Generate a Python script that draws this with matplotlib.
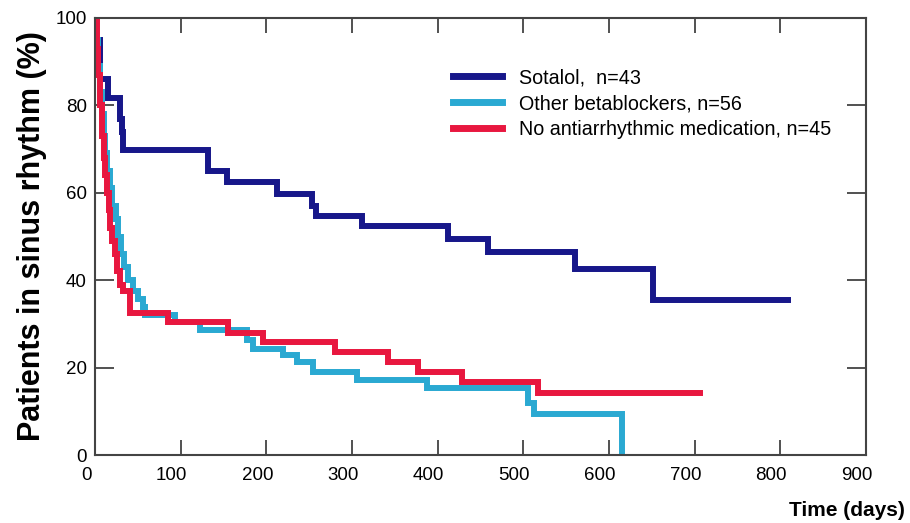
import numpy as np
import matplotlib
matplotlib.use("Agg")
import matplotlib.pyplot as plt
from matplotlib.transforms import ScaledTranslation

plt.rcParams['font.family'] = ['Liberation Sans', 'DejaVu Sans']

# Kaplan-Meier style step data (days, % in sinus rhythm)
sotalol_days = [0, 2, 6, 15, 29, 32, 33, 132, 154, 212, 253, 258, 312, 412, 459, 560, 651, 809]
sotalol_pct = [100, 95, 86, 81.7, 77, 74, 69.8, 65, 62.5, 59.8, 57, 54.6, 52.3, 49.5, 46.5, 42.6, 35.5, 35.5]

beta_days = [0, 2, 4, 6, 8, 10, 12, 14, 17, 20, 24, 27, 30, 34, 38, 44, 50, 56, 58,
             93, 122, 177, 184, 219, 236, 254, 306, 387, 505, 513, 615, 615]
beta_pct = [100, 95, 89, 83, 78, 73, 69, 65, 61, 57, 54, 50, 46, 43, 40, 37.5, 35.7, 33.9, 32,
            30.4, 28.6, 26.3, 24.3, 22.9, 21.3, 19, 17.2, 15.3, 12, 9.4, 9.4, 0]

none_days = [0, 2, 4, 6, 8, 10, 12, 14, 16, 18, 20, 23, 26, 29, 33, 41,
             85, 155, 196, 280, 342, 377, 428, 517, 706]
none_pct = [100, 93, 87, 80, 73, 68, 64, 60, 56, 52, 49, 46, 42, 39, 37.5, 32.5,
            30.4, 28, 25.9, 23.6, 21.3, 19, 16.7, 14.2, 14.2]

labels = ['Sotalol,  n=43', 'Other betablockers, n=56', 'No antiarrhythmic medication, n=45']
colors = ['#17178a', '#2aa9d2', '#e8173f']

x_ticks = [0, 100, 200, 300, 400, 500, 600, 700, 800, 900]
y_ticks = [0, 20, 40, 60, 80, 100]

fig = plt.figure(figsize=(9.1, 5.23), dpi=100)
ax = fig.add_axes([95 / 910, 1 - 455 / 523, (866 - 95) / 910, (455 - 18) / 523])

series = [(sotalol_days, sotalol_pct), (beta_days, beta_pct), (none_days, none_pct)]
# draw order: navy, cyan, red on top
for (d, p), c, lab in zip(series, colors, labels):
    ax.step(d, p, where='post', color=c, lw=4.3, label=lab, solid_joinstyle='miter')

ax.set_xlim(0, 900)
ax.set_ylim(0, 100)
ax.set_xticks(x_ticks)
ax.set_yticks(y_ticks)

ax.tick_params(axis='x', direction='in', length=11, width=1.2, top=True, bottom=True,
               pad=9, labelsize=13.5, colors='#333333', labelcolor='black')
ax.tick_params(axis='y', direction='in', length=14, width=1.2, left=True, right=True,
               pad=6, labelsize=13.5, colors='#333333', labelcolor='black')
# tick labels in the original sit a little left of their ticks
shift = ScaledTranslation(-9 / 100, 0, fig.dpi_scale_trans)
for t in ax.get_xticklabels():
    t.set_transform(t.get_transform() + shift)

for s in ax.spines.values():
    s.set_linewidth(1.5)
    s.set_color('#444444')

ax.set_ylabel('Patients in sinus rhythm (%)', fontsize=22, fontweight='bold', labelpad=6)
fig.text(905 / 910, 1 - 510 / 523, 'Time (days)', fontsize=15, fontweight='bold',
         ha='right', va='center')

leg = ax.legend(loc='upper left', bbox_to_anchor=(453 / 910, 1 - 68 / 523),
                bbox_transform=fig.transFigure, frameon=False, fontsize=14.2,
                handlelength=2.5, handletextpad=0.85, labelspacing=0.36,
                borderpad=0, borderaxespad=0)
for h in leg.get_lines():
    h.set_linewidth(5)

plt.savefig('out.png', dpi=100)
